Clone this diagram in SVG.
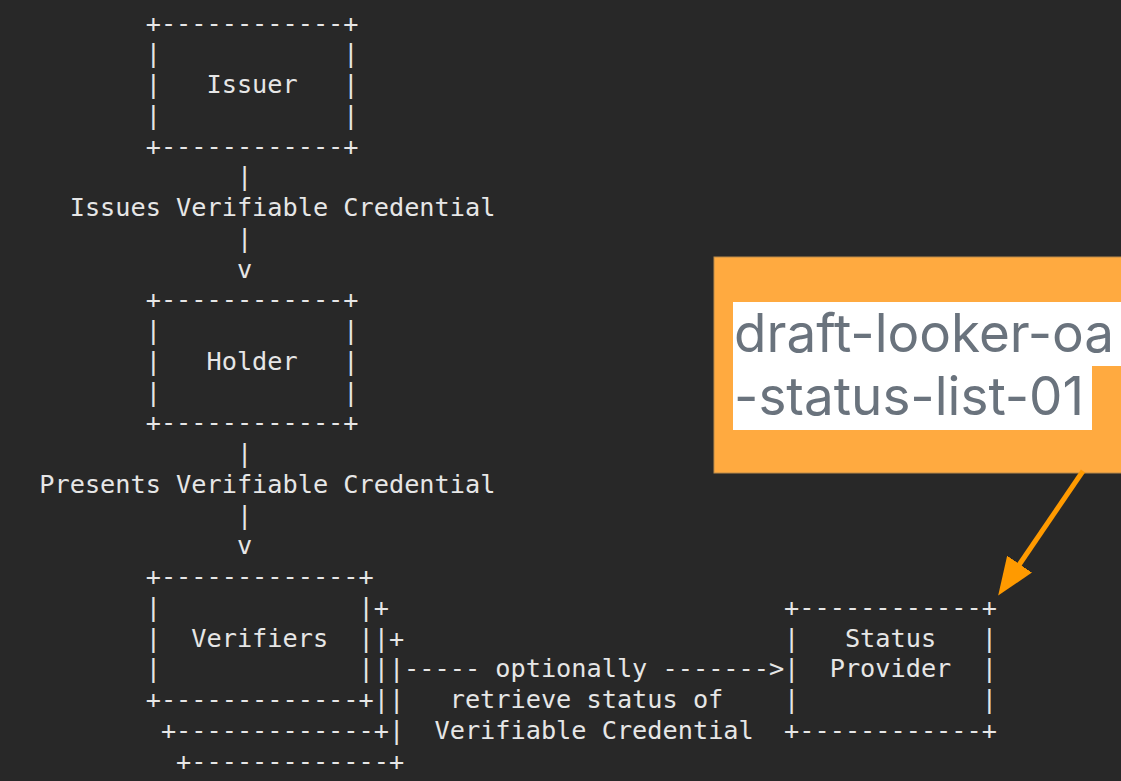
<svg xmlns="http://www.w3.org/2000/svg" width="1121" height="781" viewBox="0 0 1121 781">
  <style>
    .tt { font-family: "DejaVu Sans Mono", "Liberation Mono", monospace; font-size: 25.25px; fill: #e6e6e6; }
    .note { font-family: Inter, "Noto Sans", "Liberation Sans", sans-serif; font-size: 53px; fill: #6a737d; }
  </style>
  <defs>
    <marker id="head" viewBox="0 0 38 30" markerWidth="38" markerHeight="30" refX="1" refY="15" orient="auto" markerUnits="userSpaceOnUse">
      <polygon points="0,0 38,15 0,30" fill="#ff9a00"/>
    </marker>
  </defs>

  <!-- terminal background; text sits on a 15.2 x 30.75 character grid -->
  <rect x="0" y="0" width="1121" height="781" fill="#282828"/>

  <!-- Issuer box: columns 7-20, rows 0-4 -->
  <g id="issuer" class="tt">
    <text x="145.7" y="31.5">+------------+</text>
    <text x="145.7" y="62.25">|</text><text x="343.3" y="62.25">|</text>
    <text x="145.7" y="93">|</text><text x="206.5" y="93">Issuer</text><text x="343.3" y="93">|</text>
    <text x="145.7" y="123.75">|</text><text x="343.3" y="123.75">|</text>
    <text x="145.7" y="154.5">+------------+</text>
  </g>

  <!-- Holder box: rows 9-13 -->
  <g id="holder" class="tt">
    <text x="145.7" y="308.25">+------------+</text>
    <text x="145.7" y="339">|</text><text x="343.3" y="339">|</text>
    <text x="145.7" y="369.75">|</text><text x="206.5" y="369.75">Holder</text><text x="343.3" y="369.75">|</text>
    <text x="145.7" y="400.5">|</text><text x="343.3" y="400.5">|</text>
    <text x="145.7" y="431.25">+------------+</text>
  </g>

  <!-- Stacked verifier boxes: rows 18-24 -->
  <g id="verifiers" class="tt">
    <text x="145.7" y="585">+-------------+</text>
    <text x="145.7" y="615.75">|</text><text x="358.5" y="615.75">|+</text>
    <text x="145.7" y="646.5">|</text><text x="191.3" y="646.5">Verifiers</text><text x="358.5" y="646.5">||+</text>
    <text x="145.7" y="677.25">|</text><text x="358.5" y="677.25">|||</text>
    <text x="145.7" y="708">+-------------+||</text>
    <text x="160.9" y="738.75">+-------------+|</text>
    <text x="176.1" y="769.5">+-------------+</text>
  </g>

  <!-- Status Provider box: columns 49-62, rows 19-23 -->
  <g id="status-provider" class="tt">
    <text x="784.1" y="615.75">+------------+</text>
    <text x="784.1" y="646.5">|</text><text x="844.9" y="646.5">Status</text><text x="981.7" y="646.5">|</text>
    <text x="784.1" y="677.25">|</text><text x="829.7" y="677.25">Provider</text><text x="981.7" y="677.25">|</text>
    <text x="784.1" y="708">|</text><text x="981.7" y="708">|</text>
    <text x="784.1" y="738.75">+------------+</text>
  </g>

  <!-- Flows between the parties -->
  <g id="connectors" class="tt">
    <text x="236.9" y="185.25">|</text>
    <text x="69.7" y="216">Issues Verifiable Credential</text>
    <text x="236.9" y="246.75">|</text>
    <text x="236.9" y="277.5">v</text>

    <text x="236.9" y="462">|</text>
    <text x="39.3" y="492.75">Presents Verifiable Credential</text>
    <text x="236.9" y="523.5">|</text>
    <text x="236.9" y="554.25">v</text>

    <text x="404.1" y="677.25">----- optionally -------&gt;</text>
    <text x="449.7" y="708">retrieve status of</text>
    <text x="434.5" y="738.75">Verifiable Credential</text>
  </g>

  <!-- Callout naming the specification -->
  <g id="callout">
    <rect x="714" y="257" width="420" height="216" fill="#ffaa40" stroke="#b98a4a" stroke-width="1"/>
    <rect x="733" y="302" width="388" height="64" fill="#ffffff"/>
    <rect x="733" y="366" width="359" height="64" fill="#ffffff"/>
    <text class="note" x="734" y="352">draft-looker-oa</text>
    <text class="note" x="734" y="415">-status-list-01</text>
  </g>

  <g id="callout-pointer">
    <line x1="1083" y1="471" x2="1019" y2="565" stroke="#ff9a00" stroke-width="5" marker-end="url(#head)"/>
  </g>
</svg>
